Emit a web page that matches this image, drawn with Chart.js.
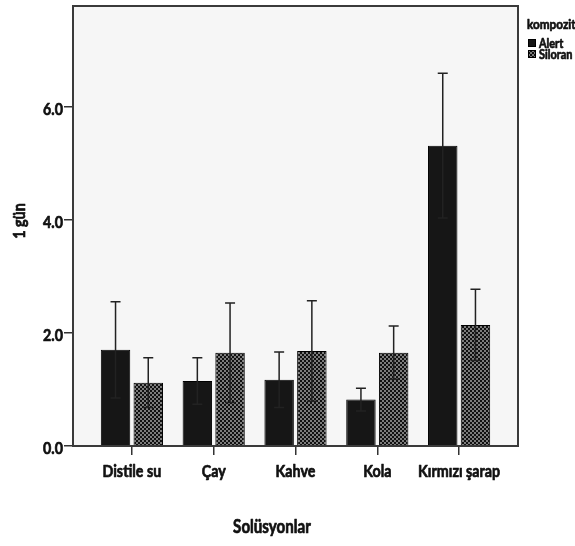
<!DOCTYPE html>
<html>
<head>
<meta charset="utf-8">
<script src="https://cdn.jsdelivr.net/npm/chart.js@4/dist/chart.umd.min.js"></script>
<style>
  html, body { margin: 0; padding: 0; background: #fff; }
  #chart { display: block; }
</style>
</head>
<body>
<canvas id="chart" width="575" height="546"></canvas>
<script>
const categories = ['Distile su', 'Çay', 'Kahve', 'Kola', 'Kırmızı şarap'];
const seriesNames = ['Alert', 'Siloran'];
const alertMeans = [1.70, 1.15, 1.17, 0.82, 5.31];
const alertErrors = [0.85, 0.41, 0.49, 0.20, 1.28];
const siloranMeans = [1.12, 1.65, 1.68, 1.65, 2.14];
const siloranErrors = [0.44, 0.88, 0.89, 0.47, 0.63];
const yTicks = [0, 2, 4, 6];
const yTitle = '1 gün';
const xTitle = 'Solüsyonlar';
const legendTitle = 'kompozit';

const FONT = 'Lato, "Liberation Sans", sans-serif';
const SQUEEZE = 0.84; // the original uses a narrow, heavy face
const INK = '#111';

const canvas = document.getElementById('chart');
const ctx = canvas.getContext('2d');

// small black/grey checkerboard, like the SPSS fill
function checker() {
  const c = document.createElement('canvas');
  c.width = 4; c.height = 4;
  const g = c.getContext('2d');
  g.fillStyle = '#7c7c7c';
  g.fillRect(0, 0, 4, 4);
  g.fillStyle = '#111';
  g.fillRect(0, 0, 2, 2);
  g.fillRect(2, 2, 2, 2);
  return ctx.createPattern(c, 'repeat');
}

function squeezedText(ctx, text, x, y, size, align, rotate) {
  ctx.save();
  ctx.translate(x, y);
  if (rotate) ctx.rotate(-Math.PI / 2);
  ctx.scale(SQUEEZE, 1);
  ctx.font = 'bold ' + size + 'px ' + FONT;
  ctx.textAlign = align;
  ctx.textBaseline = 'alphabetic';
  ctx.fillStyle = INK;
  ctx.strokeStyle = INK;
  ctx.lineWidth = 0.7; // a bit heavier than plain bold
  ctx.lineJoin = 'round';
  ctx.fillText(text, 0, 0);
  ctx.strokeText(text, 0, 0);
  ctx.restore();
}

const plotFrame = {
  id: 'plotFrame',
  beforeDatasetsDraw(chart) {
    const { ctx, chartArea: a } = chart;
    ctx.save();
    ctx.fillStyle = '#f6f6f6';
    ctx.fillRect(a.left, a.top, a.right - a.left, a.bottom - a.top);
    ctx.restore();
  },
  afterDatasetsDraw(chart) {
    const { ctx, chartArea: a } = chart;
    ctx.save();
    ctx.strokeStyle = '#3a3a3a';
    ctx.lineWidth = 2;
    ctx.strokeRect(a.left, a.top, a.right - a.left, a.bottom - a.top);
    ctx.restore();
  }
};

const errorBars = {
  id: 'errorBars',
  afterDatasetsDraw(chart) {
    const { ctx } = chart;
    const y = chart.scales.y;
    ctx.save();
    ctx.strokeStyle = '#222';
    ctx.lineWidth = 1.5;
    chart.data.datasets.forEach((ds, d) => {
      chart.getDatasetMeta(d).data.forEach((bar, i) => {
        const m = ds.data[i].y, e = ds.errors[i];
        const top = y.getPixelForValue(m + e);
        const bot = y.getPixelForValue(m - e);
        ctx.beginPath();
        ctx.moveTo(bar.x, top); ctx.lineTo(bar.x, bot);
        ctx.moveTo(bar.x - 5, top); ctx.lineTo(bar.x + 5, top);
        ctx.moveTo(bar.x - 5, bot); ctx.lineTo(bar.x + 5, bot);
        ctx.stroke();
      });
    });
    ctx.restore();
  }
};

// axis labels, titles and legend in the narrow face
const texts = {
  id: 'texts',
  afterDraw(chart) {
    const { ctx, chartArea: a } = chart;
    const { x, y } = chart.scales;

    categories.forEach((c, i) => squeezedText(ctx, c, x.getPixelForValue(i), a.bottom + 31, 17, 'center'));
    yTicks.forEach((v) => squeezedText(ctx, v.toFixed(1), a.left - 10, y.getPixelForValue(v) + 8, 17, 'right'));

    squeezedText(ctx, yTitle, 25, 221, 17, 'center', true);
    squeezedText(ctx, xTitle, 272, 533, 18, 'center');

    squeezedText(ctx, legendTitle, 527, 29, 14, 'left');
    chart.data.datasets.forEach((ds, d) => {
      const top = 39 + d * 11;
      ctx.save();
      ctx.fillStyle = ds.backgroundColor;
      ctx.fillRect(528, top, 8, 8);
      ctx.strokeStyle = '#000';
      ctx.lineWidth = 1;
      ctx.strokeRect(528.5, top + 0.5, 7, 7);
      ctx.restore();
      squeezedText(ctx, ds.label, 539, top + 8.5, 13, 'left');
    });
  }
};

new Chart(ctx, {
  type: 'bar',
  data: {
    datasets: [
      {
        label: seriesNames[0],
        data: alertMeans.map((v, i) => ({ x: i, y: v })),
        errors: alertErrors,
        backgroundColor: '#161616',
        borderColor: '#000',
        borderWidth: 1
      },
      {
        label: seriesNames[1],
        data: siloranMeans.map((v, i) => ({ x: i, y: v })),
        errors: siloranErrors,
        backgroundColor: checker(),
        borderColor: '#000',
        borderWidth: 1
      }
    ]
  },
  options: {
    responsive: false,
    animation: false,
    layout: { padding: { top: 6, right: 57, left: 0, bottom: 0 } },
    datasets: { bar: { categoryPercentage: 0.8, barPercentage: 0.9 } },
    plugins: { legend: { display: false }, tooltip: { enabled: false } },
    scales: {
      x: {
        type: 'linear',
        min: -0.72,
        max: 4.72,
        offset: false,
        afterBuildTicks: (s) => { s.ticks = categories.map((_, i) => ({ value: i })); },
        afterFit: (s) => { s.height = 100; },
        ticks: { display: false },
        grid: { offset: false, drawOnChartArea: false, tickLength: 9, color: '#333', lineWidth: 1.5 },
        border: { display: false }
      },
      y: {
        min: 0,
        max: 7.78,
        afterBuildTicks: (s) => { s.ticks = yTicks.map((v) => ({ value: v })); },
        afterFit: (s) => { s.width = 73; },
        ticks: { display: false },
        grid: { drawOnChartArea: false, tickLength: 9, color: '#333', lineWidth: 1.5 },
        border: { display: false }
      }
    }
  },
  plugins: [plotFrame, errorBars, texts]
});
</script>
</body>
</html>
